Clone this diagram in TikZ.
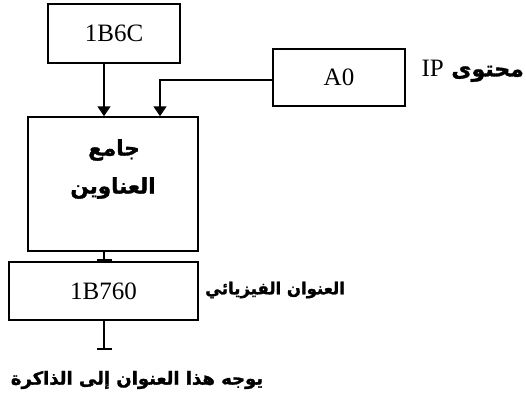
\documentclass[tikz,border=0pt]{standalone}
\usepackage{fontspec}
\setmainfont{Liberation Serif}
\newfontfamily\arabicfont[Script=Arabic,FakeBold=1.5]{DejaVu Sans}
\TeXXeTstate=1
\usetikzlibrary{arrows.meta}
\tikzset{
  box/.style={draw, line width=1.5pt, inner sep=0pt, font=\fontsize{25}{28}\selectfont},
  arr/.style={line width=1.5pt, -{Triangle[width=13pt,length=10pt]}},
  bar/.style={line width=1.5pt, -{Bar[width=15pt,line width=2.5pt]}},
  ar/.style={font=\arabicfont\bfseries\fontsize{#1}{30}\selectfont, inner sep=0pt, align=center},
  ar/.default=18
}
\begin{document}
\begin{tikzpicture}[x=1pt,y=-1pt]
\useasboundingbox (0,0) rectangle (526,393);
\node[box, minimum width=132pt, minimum height=59pt] (b1) at (114,33.5) {1B6C};
\node[box, minimum width=132pt, minimum height=57pt] (a0) at (339,77.5) {A0};
\node[box, minimum width=170pt, minimum height=134pt] (main) at (113,184) {};
\node[box, minimum width=189pt, minimum height=58pt] (phys) at (103.5,291) {1B760};
\coordinate (cx) at (104,0);
\coordinate (cy) at (160,0);
\coordinate (end) at (104,350);
\node[ar=21.5] (t1) at (114,150) {\beginR جامع\endR};
\node[ar=21.5] (t2) at (113,188) {\beginR العناوين\endR};
\node[ar=22, anchor=east] (ip) at (524,71) {\beginR محتوى \beginL{\rmfamily\mdseries\fontsize{25}{28}\selectfont IP}\endL\endR};
\node[ar=16.5, anchor=west] (fz) at (205,290) {\beginR العنوان الفيزيائي\endR};
\node[ar=18] (mem) at (137,380) {\beginR يوجه هذا العنوان إلى الذاكرة\endR};
\draw[arr] (b1.south -| cx) -- (main.north -| cx);
\draw[arr] (a0.west |- 0,80) -| (main.north -| cy);
\draw[bar] (main.south -| cx) -- (phys.north -| cx);
\draw[bar] (phys.south -| cx) -- (end);
\end{tikzpicture}
\end{document}
